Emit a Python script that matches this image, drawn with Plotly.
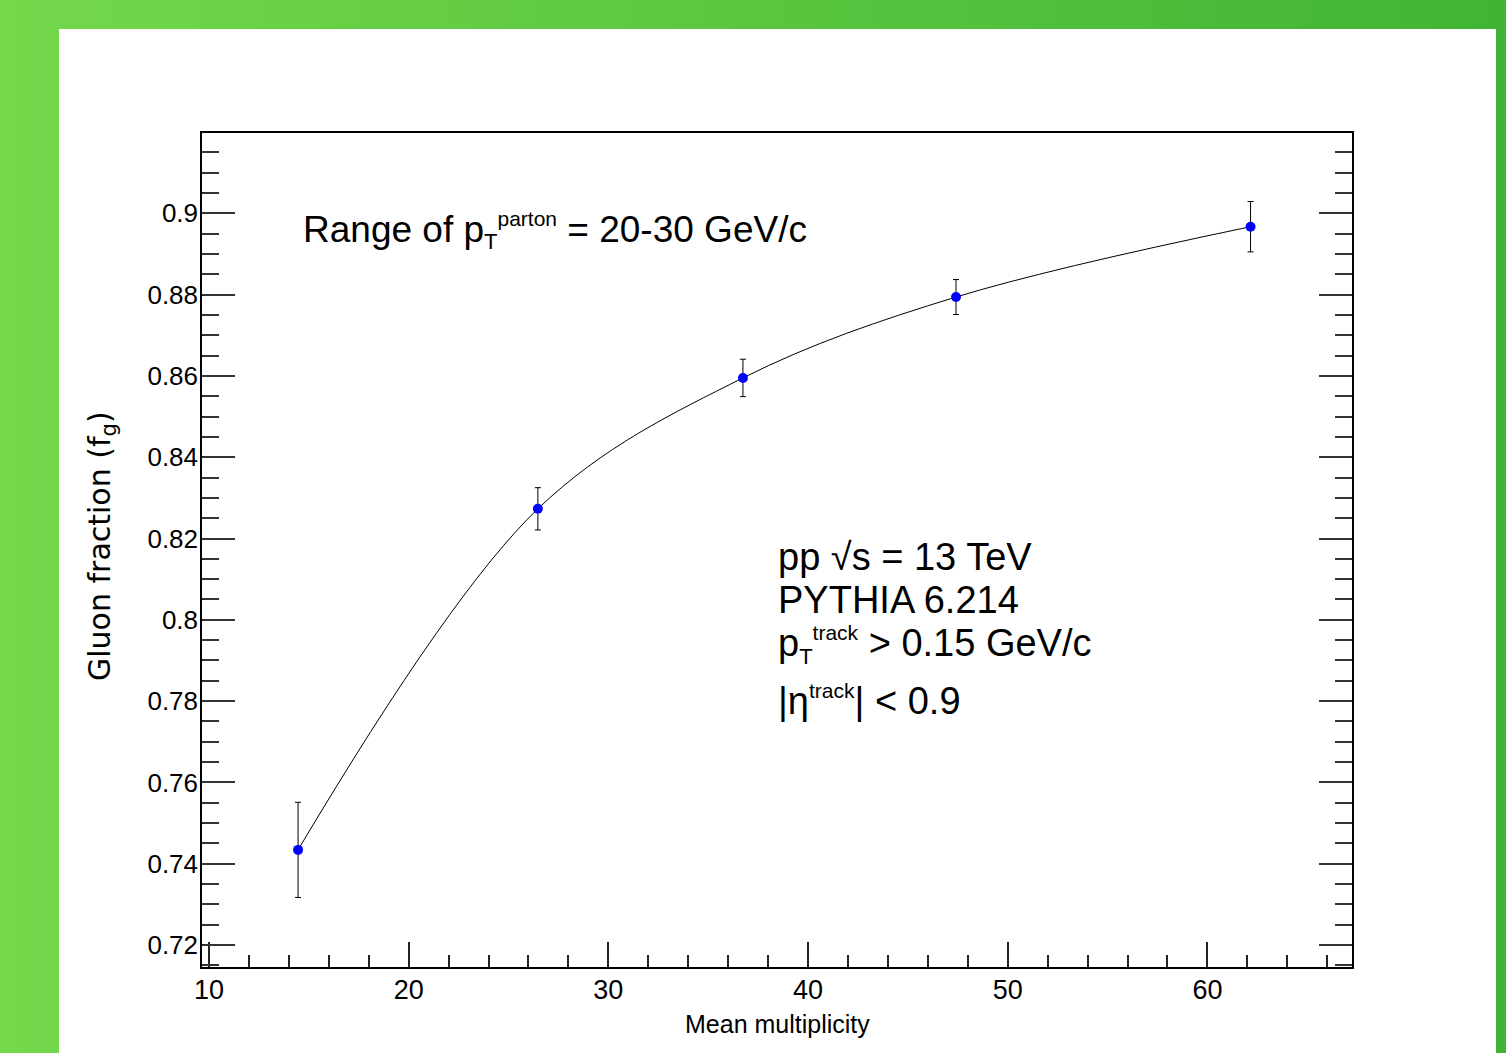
import base64
import plotly.graph_objects as go

# ---- data ----
mean_mult = [14.46, 26.47, 36.74, 47.41, 62.16]
gluon_frac = [0.7434, 0.8273, 0.8595, 0.8794, 0.8967]
gluon_err = [0.0117, 0.0052, 0.0046, 0.0043, 0.0062]

x_title = "Mean multiplicity"
y_title = "Gluon fraction (f<sub>g</sub>)"
range_text = ("Range of p<sub><span style='font-size:22px'>T</span></sub>"
              "<sup><span style='font-size:21px'>parton</span></sup> = 20-30 GeV/c")
info_lines = [
    "pp \u221as = 13 TeV",
    "PYTHIA 6.214",
    "p<sub><span style='font-size:22px'>T</span></sub>"
    "<sup><span style='font-size:21px'>track</span></sup> > 0.15 GeV/c",
    "|\u03b7<sup><span style='font-size:21px'>track</span></sup>| < 0.9",
]

W, H = 1506, 1053
L, R, T, B = 202, 154, 133, 86
PW, PH = W - L - R, H - T - B


def px2x(px):
    return (px - L) / PW


def py2y(py):
    return (H - B - py) / PH


SANS = "Liberation Sans, Arial, Helvetica, sans-serif"

fig = go.Figure()

# smooth curve through the points
fig.add_trace(go.Scatter(
    x=mean_mult, y=gluon_frac, mode="lines",
    line=dict(color="black", width=1, shape="spline", smoothing=1.0),
    hoverinfo="skip", showlegend=False,
))
# points with error bars
fig.add_trace(go.Scatter(
    x=mean_mult, y=gluon_frac, mode="markers",
    marker=dict(color="#0000ff", size=10, line=dict(width=0)),
    error_y=dict(type="data", array=gluon_err, color="black", thickness=1, width=3),
    showlegend=False,
))

# background gradient
svg = (
    f'<svg xmlns="http://www.w3.org/2000/svg" width="{W}" height="{H}">'
    '<defs><linearGradient id="g" x1="0" y1="0" x2="1" y2="0">'
    '<stop offset="0" stop-color="#74d84b"/><stop offset="1" stop-color="#40b434"/>'
    '</linearGradient></defs>'
    f'<rect width="{W}" height="{H}" fill="url(#g)"/></svg>'
)
src = "data:image/svg+xml;base64," + base64.b64encode(svg.encode()).decode()

fig.add_layout_image(dict(
    source=src, xref="paper", yref="paper",
    x=px2x(0), y=py2y(0), sizex=W / PW, sizey=H / PH,
    xanchor="left", yanchor="top", sizing="stretch", layer="below",
))
fig.add_shape(type="rect", xref="paper", yref="paper",
              x0=px2x(59), x1=px2x(1496), y0=py2y(H + 20), y1=py2y(29),
              fillcolor="white", line=dict(width=0), layer="below")

annotations = [
    dict(text=range_text, x=px2x(301), y=py2y(230), xanchor="left", yanchor="middle",
         font=dict(family=SANS, size=37, color="black")),
    dict(text=x_title, x=px2x(777), y=py2y(1024), xanchor="center", yanchor="middle",
         font=dict(family=SANS, size=25, color="black")),
    dict(text=y_title, x=px2x(101), y=py2y(546), xanchor="center", yanchor="middle",
         textangle=-90, font=dict(family="DejaVu Sans, sans-serif", size=30, color="black")),
]
line_y = [557, 600, 645, 700]
for txt, yy in zip(info_lines, line_y):
    annotations.append(dict(text=txt, x=px2x(776), y=py2y(yy), xanchor="left", yanchor="middle",
                            font=dict(family=SANS, size=38, color="black")))
for a in annotations:
    a.update(xref="paper", yref="paper", showarrow=False)

fig.update_layout(
    width=W, height=H,
    margin=dict(l=L, r=R, t=T, b=B, pad=0),
    paper_bgcolor="#5cc843", plot_bgcolor="rgba(0,0,0,0)",
    annotations=annotations,
    showlegend=False,
)
fig.update_xaxes(
    range=[9.65, 67.24], showgrid=False, zeroline=False,
    showline=True, linecolor="black", linewidth=1.5, mirror=True,
    ticks="inside", ticklen=25, tickwidth=1.5, tickcolor="#222",
    tick0=10, dtick=10,
    minor=dict(ticks="inside", ticklen=12, tickwidth=1.5, tickcolor="#222", dtick=2, showgrid=False),
    tickfont=dict(family=SANS, size=27, color="black"),
    ticklabelstandoff=-2,
)
fig.update_yaxes(
    range=[0.71459, 0.91975], showgrid=False, zeroline=False,
    showline=True, linecolor="black", linewidth=1.5, mirror="ticks",
    ticks="inside", ticklen=33, tickwidth=1.5, tickcolor="#333",
    tick0=0.72, dtick=0.02,
    minor=dict(ticks="inside", ticklen=17, tickwidth=1.5, tickcolor="#333", dtick=0.005, showgrid=False),
    tickfont=dict(family=SANS, size=26, color="black"),
    ticklabelstandoff=-3,
)

fig.write_html("out.html")
